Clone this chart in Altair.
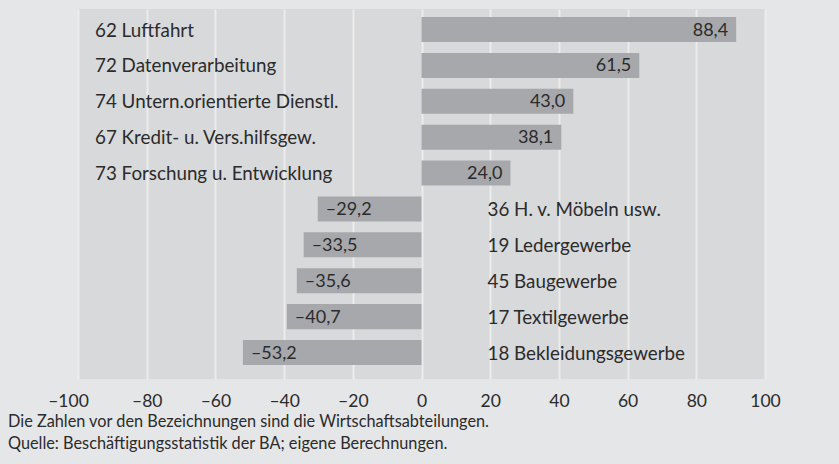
import altair as alt
import pandas as pd

categories = [
    "62 Luftfahrt",
    "72 Datenverarbeitung",
    "74 Untern.orientierte Dienstl.",
    "67 Kredit- u. Vers.hilfsgew.",
    "73 Forschung u. Entwicklung",
    "36 H. v. Möbeln usw.",
    "19 Ledergewerbe",
    "45 Baugewerbe",
    "17 Textilgewerbe",
    "18 Bekleidungsgewerbe",
]
# printed values
values = [88.4, 61.5, 43.0, 38.1, 24.0, -29.2, -33.5, -35.6, -40.7, -53.2]
# bar lengths as drawn in the reference (read against the axis)
bar_lengths = [91.6, 63.4, 44.2, 40.7, 25.9, -30.2, -34.3, -36.3, -39.2, -52.0]
x_ticks = [-100, -80, -60, -40, -20, 0, 20, 40, 60, 80, 100]
footnote = [
    "Die Zahlen vor den Bezeichnungen sind die Wirtschaftsabteilungen.",
    "Quelle: Beschäftigungsstatistik der BA; eigene Berechnungen.",
]

def fmt(v):
    s = f"{abs(v):.1f}".replace(".", ",")
    return ("–" + s) if v < 0 else s

df = pd.DataFrame({
    "cat": categories,
    "val": values,
    "bar": bar_lengths,
    "lab": [fmt(v) for v in values],
})

FONT = "Lato"
TXT = "#2b2b2b"
FS = 18.8

y_enc = alt.Y(
    "cat:N",
    sort=categories,
    axis=None,
    scale=alt.Scale(paddingInner=0.303, paddingOuter=0.306, align=0.364),
)

base = alt.Chart(df)

bars = base.mark_bar(color="#a7a8ab").encode(
    x=alt.X(
        "bar:Q",
        scale=alt.Scale(domain=[-100, 100], nice=False, zero=False),
        axis=alt.Axis(
            values=x_ticks,
            title=None,
            grid=True,
            gridColor="#ececec",
            gridWidth=2,
            domain=False,
            ticks=False,
            labelFont=FONT,
            labelFontSize=17.5,
            labelColor=TXT,
            labelPadding=13,
            labelFlush=False,
            labelOffset={"condition": {"test": "datum.value == -100", "value": -10}, "value": 0},
            labelExpr="datum.value < 0 ? '–' + abs(datum.value) : '' + datum.value",
        ),
    ),
    x2=alt.datum(0),
    y=y_enc,
)

pos_vals = base.transform_filter("datum.val >= 0").mark_text(
    align="right", baseline="middle", dx=-8, dy=1, font=FONT, fontSize=18, color=TXT
).encode(x="bar:Q", y=y_enc, text="lab:N")

neg_vals = base.transform_filter("datum.val < 0").mark_text(
    align="left", baseline="middle", dx=8, dy=1, font=FONT, fontSize=18, color=TXT
).encode(x="bar:Q", y=y_enc, text="lab:N")

pos_cats = base.transform_filter("datum.val >= 0").mark_text(
    align="left", baseline="middle", dx=17, dy=1, font=FONT, fontSize=FS, color=TXT
).encode(x=alt.datum(-100), y=y_enc, text="cat:N")

neg_cats = base.transform_filter("datum.val < 0").mark_text(
    align="left", baseline="middle", dx=66, dy=1, font=FONT, fontSize=FS, color=TXT
).encode(x=alt.datum(0), y=y_enc, text="cat:N")

chart = (
    alt.layer(bars, pos_vals, neg_vals, pos_cats, neg_cats)
    .properties(
        width=687,
        height=370,
        autosize=alt.AutoSizeParams(type="none"),
        padding={"left": 78, "top": 9, "right": 74, "bottom": 85},
        background="#e5e6e8",
        title=alt.TitleParams(
            text=footnote,
            orient="bottom",
            anchor="start",
            frame="group",
            dx=-70,
            offset=4,
            font=FONT,
            fontSize=16.3,
            fontWeight="normal",
            color=TXT,
            lineHeight=22,
        ),
    )
    .configure_view(fill="#d8d9db", stroke=None)
)

chart.save("out.html", embed_options={"renderer": "svg", "actions": False})
